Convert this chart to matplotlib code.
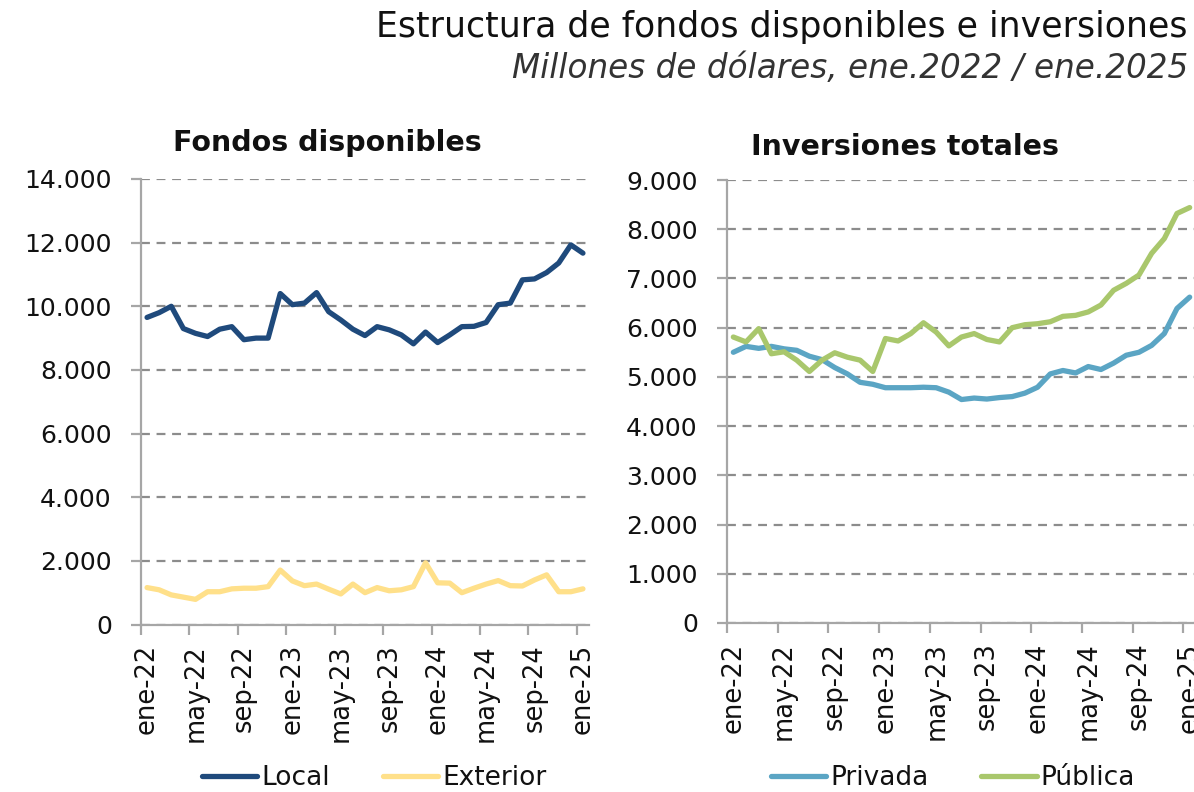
import matplotlib
matplotlib.use("Agg")
import matplotlib.pyplot as plt
from matplotlib.ticker import FuncFormatter, FixedLocator
import numpy as np

plt.rcParams['font.family'] = ['DejaVu Sans']

# meses ene-22 .. ene-25 (37 observaciones)
meses = ["ene", "feb", "mar", "abr", "may", "jun", "jul", "ago", "sep", "oct", "nov", "dic"]
fechas = [f"{meses[i % 12]}-{22 + i // 12}" for i in range(37)]

# Fondos disponibles
local = [9650, 9800, 10000, 9300, 9150, 9050, 9280, 9360, 8950, 9000, 9000, 10400,
         10050, 10100, 10430, 9830, 9570, 9280, 9080, 9360, 9260, 9100, 8820, 9190,
         8860, 9100, 9360, 9370, 9490, 10050, 10100, 10830, 10860, 11060, 11360, 11930,
         11670]
exterior = [1160, 1090, 930, 860, 790, 1030, 1030, 1120, 1140, 1140, 1190, 1710,
            1370, 1220, 1270, 1110, 960, 1270, 1000, 1160, 1060, 1090, 1190, 1940,
            1310, 1300, 1000, 1140, 1270, 1380, 1220, 1210, 1400, 1560, 1030, 1030,
            1120]

# Inversiones totales
privada = [5500, 5620, 5580, 5620, 5570, 5540, 5420, 5350, 5190, 5060, 4890, 4850,
           4780, 4780, 4780, 4790, 4780, 4690, 4540, 4570, 4550, 4580, 4600, 4670,
           4790, 5060, 5130, 5080, 5210, 5150, 5280, 5440, 5500, 5640, 5880, 6390,
           6620]
publica = [5810, 5710, 5980, 5470, 5510, 5340, 5110, 5340, 5490, 5400, 5340, 5110,
           5780, 5730, 5880, 6100, 5910, 5630, 5810, 5880, 5760, 5710, 6000, 6060,
           6080, 6120, 6230, 6250, 6320, 6460, 6760, 6900, 7070, 7510, 7810, 8320,
           8440]

c_local = "#1F4A7C"
c_ext = "#FFE08A"
c_priv = "#5BA5C4"
c_pub = "#A9C76C"
c_grid = "#8C8C8C"
c_spine = "#A6A6A6"
c_text = "#111111"

fig = plt.figure(figsize=(11.94, 7.92), dpi=100)

ax1 = fig.add_axes([141 / 1194, 1 - 624.5 / 792, 448 / 1194, 445.5 / 792])
ax2 = fig.add_axes([727 / 1194, 1 - 623 / 792, 469 / 1194, 443 / 792])

x = np.arange(len(fechas)) + 0.5


def miles(v, pos):
    return f"{int(v):,}".replace(",", ".")


def estilo(ax, ymax, ystep):
    ax.set_xlim(0, 37)
    ax.set_ylim(0, ymax)
    ax.set_yticks(np.arange(0, ymax + 1, ystep))
    ax.yaxis.set_major_formatter(FuncFormatter(miles))
    ax.grid(axis='y', color=c_grid, linestyle=(0, (4, 3)), linewidth=1.6)
    ax.set_axisbelow(True)
    for s in ["top", "right"]:
        ax.spines[s].set_visible(False)
    for s in ["left", "bottom"]:
        ax.spines[s].set_color(c_spine)
        ax.spines[s].set_linewidth(1.6)
    # marcas entre categorías, etiquetas centradas
    ax.xaxis.set_major_locator(FixedLocator(np.arange(0, 37, 4)))
    ax.xaxis.set_minor_locator(FixedLocator(np.arange(0, 37, 4) + 0.5))
    ax.set_xticklabels([])
    ax.set_xticklabels(fechas[::4], minor=True, rotation=90, fontsize=18.5,
                       color=c_text)
    ax.tick_params(axis='x', which='major', length=7, width=1.6, color=c_spine)
    ax.tick_params(axis='x', which='minor', length=0, pad=14)
    ax.tick_params(axis='y', length=7, width=1.6, color=c_spine, labelsize=18,
                   pad=14, labelcolor=c_text)


ax1.plot(x, local, color=c_local, lw=3.8, solid_joinstyle='round',
         solid_capstyle='round', label="Local")
ax1.plot(x, exterior, color=c_ext, lw=3.8, solid_joinstyle='round',
         solid_capstyle='round', label="Exterior")
estilo(ax1, 14000, 2000)

ax2.plot(x, privada, color=c_priv, lw=3.8, solid_joinstyle='round',
         solid_capstyle='round', label="Privada")
ax2.plot(x, publica, color=c_pub, lw=3.8, solid_joinstyle='round',
         solid_capstyle='round', label="Pública")
estilo(ax2, 9000, 1000)

fig.text(1188 / 1194, 1 - 27 / 792, "Estructura de fondos disponibles e inversiones",
         ha='right', va='center', fontsize=25, color=c_text)
fig.text(1188 / 1194, 1 - 68 / 792, "Millones de dólares, ene.2022 / ene.2025",
         ha='right', va='center', fontsize=23.5, style='italic', color="#333333")
fig.text(327 / 1194, 1 - 143 / 792, "Fondos disponibles", ha='center', va='center',
         fontsize=20.5, fontweight='bold', color=c_text)
fig.text(905 / 1194, 1 - 147 / 792, "Inversiones totales", ha='center', va='center',
         fontsize=20.5, fontweight='bold', color=c_text)

for ax, cx in [(ax1, 374), (ax2, 953)]:
    fig.legend(handles=ax.get_lines(), loc='center', bbox_to_anchor=(cx / 1194, 1 - 778 / 792),
               ncol=2, frameon=False, fontsize=19, handlelength=2.1, columnspacing=2.0,
               handletextpad=0.15, labelcolor=c_text)

fig.savefig("out.png", dpi=100)
